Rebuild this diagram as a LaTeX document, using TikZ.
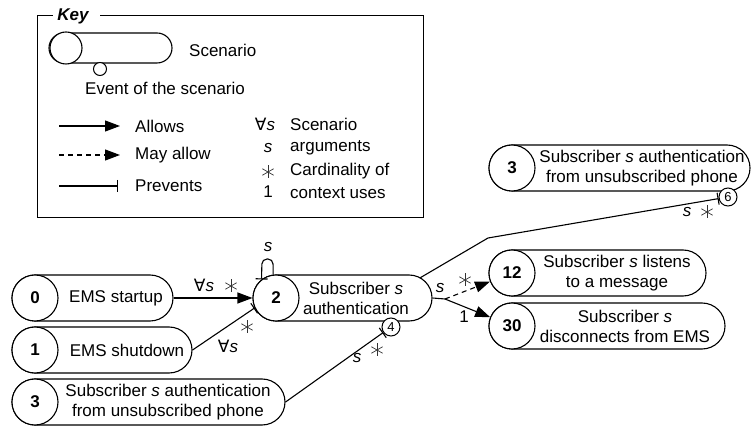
\documentclass[tikz,border=0pt]{standalone}
\usepackage{fontspec}
\setmainfont{Liberation Sans}
\newfontfamily\symfont{DejaVu Sans}
\usetikzlibrary{arrows.meta,shapes.misc,calc}
\begin{document}
\begin{tikzpicture}[x=1pt,y=1pt,
  every node/.style={font=\fontsize{17}{20}\selectfont, inner sep=0pt},
  pill/.style={draw, rounded rectangle, line width=1.1pt, minimum height=46pt, inner sep=0pt, fill=white},
  numc/.style={draw, circle, line width=1.1pt, minimum size=46pt, fill=white, font=\fontsize{17}{20}\selectfont\bfseries},
  evc/.style={draw, circle, line width=1pt, minimum size=18pt, fill=white, font=\fontsize{13}{15}\selectfont},
  txt/.style={align=center},
  cardm/.style={minimum size=16pt, path picture={
     \foreach \a in {90,30,150}
       \draw[line width=0.7pt, black!80] ($(path picture bounding box.center)+(\a:6.5pt)$) -- ($(path picture bounding box.center)+(\a+180:6.5pt)$);}},
  allowline/.style={line width=1.1pt, -{Triangle[length=15pt,width=11pt]}},
  mayline/.style={allowline, dash pattern=on 5pt off 4pt},
  prevline/.style={line width=1.1pt, -{Bar[width=12pt,line width=1.1pt]}},
  plainline/.style={line width=1.1pt},
]
\useasboundingbox (0,0) rectangle (752,-427);

% ---------- Key ----------
\node[draw, line width=1.1pt, minimum width=386pt, minimum height=202pt, anchor=north west] (keybox) at (37,-15) {};
\node[fill=white, minimum width=47pt, minimum height=14pt] (keygap) at (76.5,-15) {};
\node[font=\fontsize{17}{20}\selectfont\bfseries\itshape] (keyt) at (73,-16) {Key};

\node[pill, minimum height=30pt, minimum width=123pt] (kp) at (110.5,-48) {};
\node[numc, minimum size=32pt] (kc) at (66,-48) {};
\node[evc, minimum size=13pt] (ke) at (100,-69) {};
\node[anchor=west] (kscen) at (189,-50) {Scenario};
\node[anchor=west] (kevent) at (85,-88) {Event of the scenario};

\coordinate (ka1) at (59,-126); \coordinate (ka2) at (120,-126);
\coordinate (km1) at (59,-155); \coordinate (km2) at (120,-155);
\coordinate (kb1) at (59,-186); \coordinate (kb2) at (118,-186);
\draw[allowline] (ka1) -- (ka2);
\draw[mayline] (km1) -- (km2);
\draw[prevline] (kb1) -- (kb2);
\node[anchor=west] (kallow) at (135,-126) {Allows};
\node[anchor=west] (kmay) at (135,-155) {May allow};
\node[anchor=west] (kprev) at (135,-186) {Prevents};

\node (kall) at (265,-124) {{\symfont ∀}\textit{s}};
\node (ks) at (268,-148) {\textit{s}};
\node[cardm] (kcard) at (268,-172) {};
\node (kone) at (268,-192) {1};
\node[anchor=west] (kt1) at (290,-124) {Scenario};
\node[anchor=west] (kt2) at (290,-148) {arguments};
\node[anchor=west] (kt3) at (290,-171) {Cardinality of};
\node[anchor=west] (kt4) at (290,-193) {context uses};

% ---------- Scenarios ----------
\node[pill, minimum width=161pt] (p0) at (92.5,-298) {};
\node[numc] (c0) at (35,-298) {0};
\node[txt] (t0) at (116,-298) {EMS startup};

\node[pill, minimum width=180pt] (p1) at (102,-350) {};
\node[numc] (c1) at (35,-350) {1};
\node[txt] (t1) at (127,-350) {EMS shutdown};

\node[pill, minimum width=273pt] (p3) at (148.5,-402) {};
\node[numc] (c3) at (35,-402) {3};
\node[txt] (t3) at (168,-402) {Subscriber \textit{s} authentication\\from unsubscribed phone};

\node[pill, minimum width=179pt] (p2) at (342.5,-298) {};
\node[numc] (c2) at (276,-298) {2};
\node[txt] (t2) at (356,-298) {Subscriber \textit{s}\\authentication};
\node[evc] (e4) at (391,-327) {4};

\node[pill, minimum width=217pt] (p12) at (597.5,-273) {};
\node[numc] (c12) at (512,-273) {12};
\node[txt] (t12) at (617,-273) {Subscriber \textit{s} listens\\to a message};

\node[pill, minimum width=236pt] (p30) at (607,-326) {};
\node[numc] (c30) at (512,-326) {30};
\node[txt] (t30) at (625,-326) {Subscriber \textit{s}\\disconnects from EMS};

\node[pill, minimum width=261pt] (pt) at (619.5,-168) {};
\node[numc] (ct) at (512,-168) {3};
\node[txt] (tt) at (642,-168) {Subscriber \textit{s} authentication\\from unsubscribed phone};
\node[evc] (e6) at (728,-197) {6};

% ---------- Connectors ----------
\draw[allowline] (p0.east) -- (c2);
\node (l1) at (204,-285) {{\symfont ∀}\textit{s}};
\node[cardm] (l1c) at (231,-286) {};

\draw[prevline] (p1.east) -- (c2.205);
\node (l2) at (228,-346) {{\symfont ∀}\textit{s}};
\node[cardm] (l2c) at (247,-327) {};

\draw[prevline] (p3.east) -- (e4);
\node (l3) at (357,-358) {\textit{s}};
\node[cardm] (l3c) at (377,-350) {};

\coordinate (lpa) at (273,-259);
\coordinate (lpb) at (262,-259);
\draw[prevline, rounded corners=5pt] (c2.97) -- (lpa) -- (lpb) -- (c2.128);
\node (l4) at (268,-247) {\textit{s}};

\coordinate (fork) at (445,-299);
\draw[plainline] (p2.east) -- (fork);
\draw[mayline] (fork) -- (c12);
\draw[allowline] (fork) -- (c30);
\node (l5) at (440,-288) {\textit{s}};
\node[cardm] (l5c) at (465,-280) {};
\node (l6) at (464,-317) {1};

\coordinate (n2up) at ($(p2.east)+(-23,0)+(62:23)$);
\coordinate (bend) at (488,-238);
\draw[prevline] (n2up) -- (bend) -- (e6);
\node (l7) at (687,-212) {\textit{s}};
\node[cardm] (l7c) at (707,-212) {};
\end{tikzpicture}
\end{document}
